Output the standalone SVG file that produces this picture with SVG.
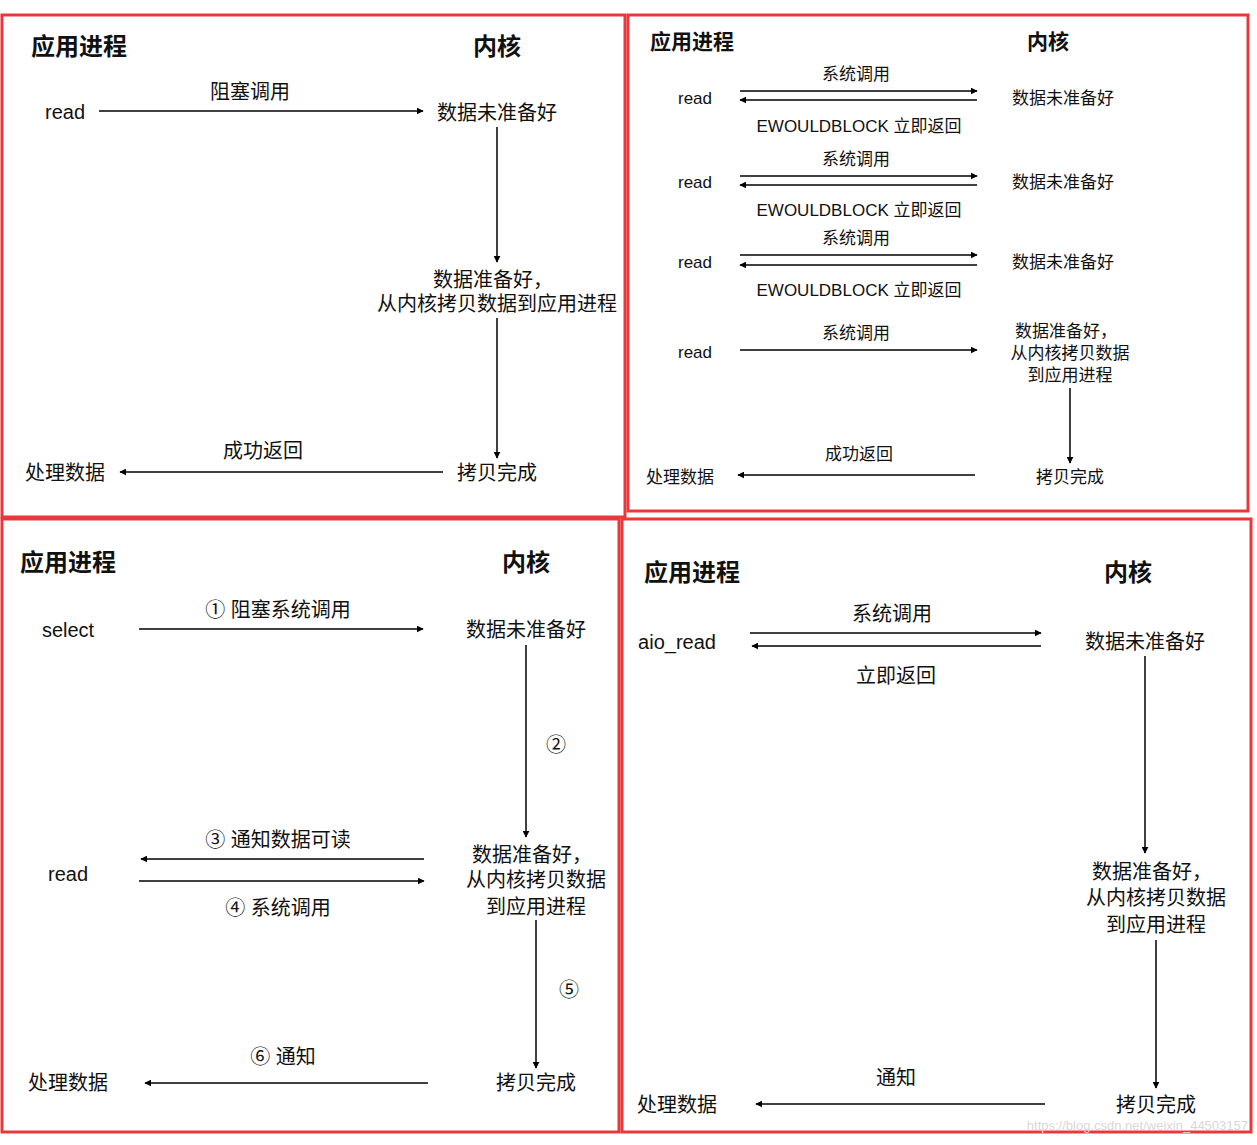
<svg xmlns="http://www.w3.org/2000/svg" width="1257" height="1145" viewBox="0 0 1257 1145">
<style>
text{font-family:"Liberation Sans","Noto Sans CJK SC",sans-serif;fill:#111;text-anchor:middle}
.h{font-weight:bold;font-size:24px}
.h2{font-weight:bold;font-size:21px}
.t{font-size:20px}
.s{font-size:17px}
.p{fill:none;stroke:#e8383c;stroke-width:3}
.c line{stroke:#000;stroke-width:1.5;marker-end:url(#a)}
</style>
<defs><marker id="a" viewBox="0 0 10 10" refX="9" refY="5" markerWidth="7" markerHeight="7" orient="auto" markerUnits="userSpaceOnUse"><path d="M0,0L10,5L0,10z" fill="#000"/></marker></defs>
<rect width="1257" height="1145" fill="#fff"/>
<g id="panels">
<rect class="p" x="2" y="15" width="623" height="502"/>
<rect class="p" x="628" y="15" width="620" height="496"/>
<rect class="p" x="2" y="519" width="617" height="613"/>
<rect class="p" x="622" y="519" width="629" height="613"/>
</g>
<g id="p1">
<text class="h" x="79" y="55">应用进程</text><text class="h" x="497" y="55">内核</text>
<text class="t" x="65" y="119">read</text><text class="t" x="250" y="99">阻塞调用</text>
<text class="t" x="497" y="120">数据未准备好</text>
<text class="t" x="493" y="287">数据准备好，</text><text class="t" x="497" y="311">从内核拷贝数据到应用进程</text>
<text class="t" x="497" y="480">拷贝完成</text><text class="t" x="263" y="458">成功返回</text><text class="t" x="65" y="480">处理数据</text>
</g>
<g id="p2">
<text class="h2" x="692" y="49">应用进程</text><text class="h2" x="1048" y="49">内核</text>
<text class="s" x="695" y="104">read</text><text class="s" x="856" y="80">系统调用</text><text class="s" x="859" y="132">EWOULDBLOCK 立即返回</text><text class="s" x="1063" y="104">数据未准备好</text>
<text class="s" x="695" y="188">read</text><text class="s" x="856" y="165">系统调用</text><text class="s" x="859" y="216">EWOULDBLOCK 立即返回</text><text class="s" x="1063" y="188">数据未准备好</text>
<text class="s" x="695" y="268">read</text><text class="s" x="856" y="244">系统调用</text><text class="s" x="859" y="296">EWOULDBLOCK 立即返回</text><text class="s" x="1063" y="268">数据未准备好</text>
<text class="s" x="695" y="358">read</text><text class="s" x="856" y="339">系统调用</text>
<text class="s" x="1066" y="337">数据准备好，</text><text class="s" x="1070" y="359">从内核拷贝数据</text><text class="s" x="1070" y="381">到应用进程</text>
<text class="s" x="1070" y="483">拷贝完成</text><text class="s" x="859" y="460">成功返回</text><text class="s" x="680" y="483">处理数据</text>
</g>
<g id="p3">
<text class="h" x="68" y="571">应用进程</text><text class="h" x="526" y="571">内核</text>
<text class="t" x="68" y="637">select</text><text class="t" x="278" y="617">① 阻塞系统调用</text>
<text class="t" x="526" y="637">数据未准备好</text><text class="t" x="556" y="752">②</text>
<text class="t" x="278" y="847">③ 通知数据可读</text><text class="t" x="68" y="881">read</text><text class="t" x="278" y="915">④ 系统调用</text>
<text class="t" x="532" y="862">数据准备好，</text><text class="t" x="536" y="887">从内核拷贝数据</text><text class="t" x="536" y="914">到应用进程</text>
<text class="t" x="569" y="997">⑤</text><text class="t" x="536" y="1090">拷贝完成</text>
<text class="t" x="283" y="1064">⑥ 通知</text><text class="t" x="68" y="1090">处理数据</text>
</g>
<g id="p4">
<text class="h" x="692" y="581">应用进程</text><text class="h" x="1128" y="581">内核</text>
<text class="t" x="677" y="649">aio_read</text><text class="t" x="892" y="621">系统调用</text><text class="t" x="896" y="683">立即返回</text>
<text class="t" x="1145" y="649">数据未准备好</text>
<text class="t" x="1152" y="879">数据准备好，</text><text class="t" x="1156" y="905">从内核拷贝数据</text><text class="t" x="1156" y="932">到应用进程</text>
<text class="t" x="1156" y="1112">拷贝完成</text><text class="t" x="896" y="1085">通知</text><text class="t" x="677" y="1112">处理数据</text>
<text x="1248" y="1130" style="font-size:13px;fill:#d8d8d8;text-anchor:end">https://blog.csdn.net/weixin_44503157</text>
</g>
<g id="connectors" class="c">
<line x1="99" y1="111" x2="423" y2="111"/><line x1="497" y1="127" x2="497" y2="262"/><line x1="497" y1="318" x2="497" y2="458"/><line x1="443" y1="472" x2="120" y2="472"/>
<line x1="740" y1="91" x2="977" y2="91"/><line x1="977" y1="100" x2="740" y2="100"/>
<line x1="740" y1="176" x2="977" y2="176"/><line x1="977" y1="185" x2="740" y2="185"/>
<line x1="740" y1="255" x2="977" y2="255"/><line x1="977" y1="265" x2="740" y2="265"/>
<line x1="740" y1="350" x2="977" y2="350"/><line x1="1070" y1="388" x2="1070" y2="463"/><line x1="975" y1="475" x2="738" y2="475"/>
<line x1="139" y1="629" x2="423" y2="629"/><line x1="526" y1="645" x2="526" y2="837"/><line x1="424" y1="859" x2="141" y2="859"/><line x1="139" y1="881" x2="424" y2="881"/><line x1="536" y1="920" x2="536" y2="1068"/><line x1="428" y1="1083" x2="145" y2="1083"/>
<line x1="750" y1="633" x2="1041" y2="633"/><line x1="1041" y1="646" x2="752" y2="646"/><line x1="1145" y1="656" x2="1145" y2="853"/><line x1="1156" y1="940" x2="1156" y2="1088"/><line x1="1045" y1="1104" x2="756" y2="1104"/>
</g>
</svg>
